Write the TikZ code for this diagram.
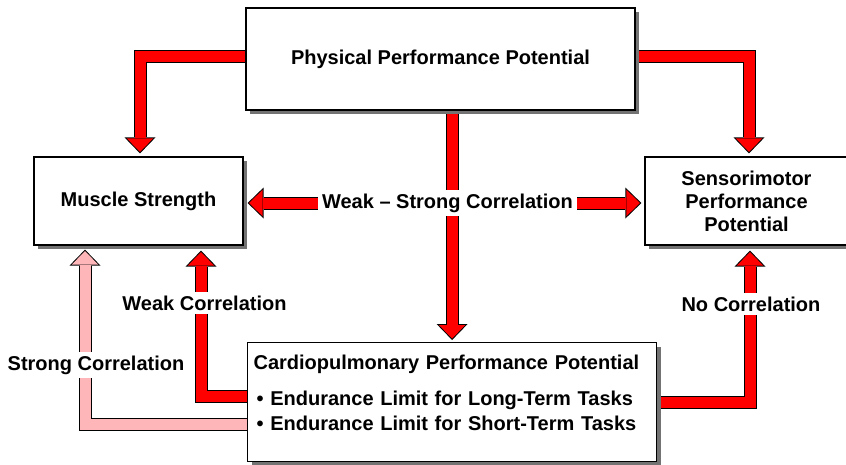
\documentclass[tikz,border=0pt]{standalone}
\usepackage{fontspec}
\setmainfont{Liberation Sans}
\usetikzlibrary{arrows.meta, shadows, backgrounds}

\definecolor{arrowred}{RGB}{255,0,0}
\definecolor{arrowpink}{RGB}{255,182,185}

\tikzset{
  box/.style={draw, line width=1.2pt, fill=white, font=\fontsize{20}{24}\selectfont\bfseries,
    drop shadow={shadow xshift=4pt, shadow yshift=-4pt, fill=black!55, opacity=1}},
  tag/.style={fill=white, inner sep=4pt, font=\fontsize{20}{24}\selectfont\bfseries},
  fatline/.style={line width=13pt, black, -{Triangle[width=31pt, length=16pt, line width=0pt]}},
  fatfill/.style={line width=11pt, #1, shorten >=1.5pt, -{Triangle[width=26.5pt, length=13.5pt, line width=0pt]}}
}
\newcommand{\fatarrow}[2][arrowred]{%
  \draw[fatline] #2;
  \draw[fatfill=#1] #2;
}

\begin{document}
\begin{tikzpicture}[x=1pt, y=-1pt]
  \useasboundingbox (0,0) rectangle (846,464);

  \node[box, minimum width=389pt, minimum height=102pt] (phys) at (440.5,59) {Physical Performance Potential};
  \node[box, minimum width=209pt, minimum height=88pt] (muscle) at (138.5,201) {Muscle Strength};
  \node[box, minimum width=203pt, minimum height=88pt, align=center, font=\fontsize{20}{23}\selectfont\bfseries] (senso) at (746.5,201) {Sensorimotor\\Performance\\Potential};
  \node[box, anchor=north west, text width=397pt, align=left, inner xsep=6pt, inner ysep=0pt,
        text height=27pt, text depth=92pt] (cardio) at (247,342)
    {Cardiopulmonary Performance Potential\\[12pt]
     \hspace*{3pt}\textbullet\ Endurance Limit for Long-Term Tasks\\[1pt]
     \hspace*{3pt}\textbullet\ Endurance Limit for Short-Term Tasks};

  \node[tag] (wsc) at (447.5,203) {Weak – Strong Correlation};
  \node[tag] (weak) at (204.5,303) {Weak Correlation};
  \node[tag] (strong) at (96,365) {Strong Correlation};
  \node[tag] (nocorr) at (751,304) {No Correlation};

  % block arrows sit behind the boxes and labels
  \begin{scope}[on background layer]
    \fatarrow{([yshift=2.5pt]phys.west) -| ([xshift=1.5pt,yshift=3pt]muscle.north)}
    \fatarrow{([yshift=2.5pt]phys.east) -| ([xshift=2.5pt,yshift=3pt]senso.north)}
    \fatarrow{(phys.south -| cardio.north) -- ([yshift=2pt]cardio.north)}
    \fatarrow{(wsc.west) -- ([xshift=4pt]muscle.east |- wsc.west)}
    \fatarrow{(wsc.east) -- ([xshift=-3pt]senso.west |- wsc.east)}
    \fatarrow{([yshift=5.5pt]cardio.west) -| ([xshift=62.5pt,yshift=-5pt]muscle.south)}
    \fatarrow[arrowpink]{([yshift=-22.5pt]cardio.west) -| ([xshift=-53.5pt,yshift=-4pt]muscle.south)}
    \fatarrow{([yshift=-0.5pt]cardio.east) -| ([xshift=3.5pt,yshift=-5pt]senso.south)}
  \end{scope}
\end{tikzpicture}
\end{document}
